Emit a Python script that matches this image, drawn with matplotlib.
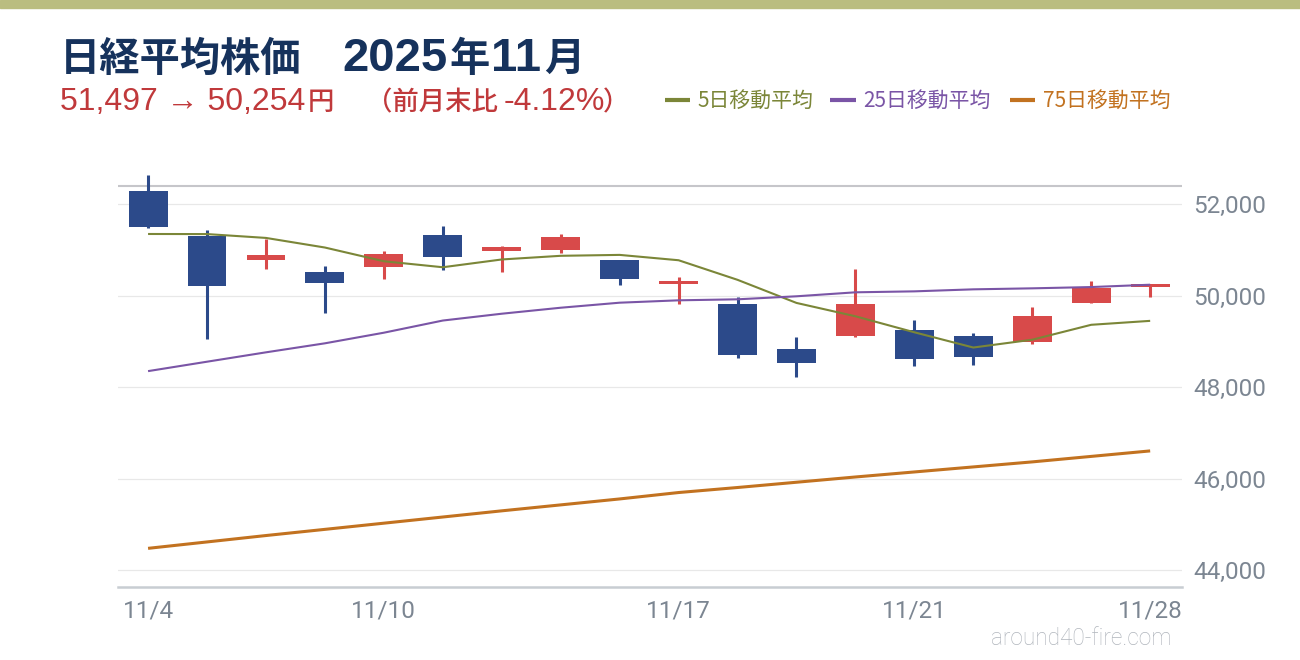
import matplotlib
matplotlib.use('Agg')
import matplotlib.pyplot as plt
from matplotlib.lines import Line2D
from matplotlib.patches import Rectangle
import numpy as np

# ---------------- data ----------------
dates = ['11/4', '11/5', '11/6', '11/7', '11/10', '11/11', '11/12', '11/13', '11/14',
         '11/17', '11/18', '11/19', '11/20', '11/21', '11/25', '11/26', '11/27', '11/28']
opens = [52291, 51307, 50790, 50520, 50636, 51329, 50986, 51008, 50782,
         50258, 49821, 48837, 49128, 49253, 49122, 48997, 49850, 50199]
highs = [52640, 51438, 51241, 50651, 50979, 51526, 51089, 51351, 50782,
         50411, 49981, 49100, 50586, 49471, 49187, 49755, 50323, 50257]
lows = [51480, 49062, 50592, 49630, 50374, 50570, 50520, 50935, 50236,
        49821, 48640, 48232, 49106, 48472, 48494, 48953, 49850, 49980]
closes = [51497, 50212, 50884, 50276, 50912, 50843, 51063, 51282, 50377,
          50324, 48703, 48538, 49824, 48626, 48660, 49559, 50167, 50254]
ma5 = [51352, 51350, 51266, 51056, 50756, 50625, 50795, 50875, 50895,
       50778, 50350, 49845, 49553, 49203, 48870, 49041, 49367, 49453]
ma25 = [48354, 48560, 48765, 48962, 49194, 49460, 49609, 49740, 49850,
        49902, 49924, 49990, 50077, 50098, 50142, 50164, 50192, 50243]
ma75 = [44480, 44620, 44760, 44895, 45030, 45165, 45300, 45430, 45560,
        45700, 45810, 45925, 46040, 46150, 46260, 46370, 46490, 46610]
prev_close = 52411
xtick_labels = ['11/4', '11/10', '11/17', '11/21', '11/28']
ytick_values = [44000, 46000, 48000, 50000, 52000]
legend_labels = ['5日移動平均', '25日移動平均', '75日移動平均']
title_name = '日経平均株価'
title_year, title_nen, title_month, title_tsuki = '2025', '年', '11', '月'
sub_range, sub_yen = '51,497 → 50,254', '円'
sub_label, sub_pct, sub_close = '（前月末比', '-4.12%', '）'
watermark = 'around40-fire.com'

# ---------------- style ----------------
BAND = '#babd80'
NAVY = '#16325c'
SUBRED = '#c0393b'
BLUE = '#2c4a8a'
RED = '#d84a4a'
OLIVE = '#7b8638'
PURPLE = '#7a55a6'
ORANGE = '#c27220'
TICK = '#7c8692'
GRID = '#e8e8e8'
WM = '#b0b5bc'

CJK = ['Noto Sans CJK JP', 'DejaVu Sans']
LAT = ['Liberation Sans', 'Noto Sans CJK JP', 'DejaVu Sans']
plt.rcParams['font.family'] = LAT

W, H = 1300, 660
fig = plt.figure(figsize=(W / 100, H / 100), dpi=100)
fig.patch.set_facecolor('white')
renderer = fig.canvas.get_renderer()


def draw_runs(x_px, base_px, runs):
    """Draw text runs one after another; each run: (text, kwargs, x_override, gap)."""
    x = x_px
    for text, kw, x_set, gap in runs:
        if x_set is not None:
            x = x_set
        t = fig.text(x / W, (H - base_px) / H, text, va='baseline', ha='left', **kw)
        bb = t.get_window_extent(renderer)
        x = bb.x1 + gap


# top band
fig.patches.append(Rectangle((0, 1 - 8 / H), 1, 8 / H, transform=fig.transFigure,
                             color=BAND, zorder=0))

# axes
ax_left, ax_right = 118, 1182
ax_bottom_px, ax_top_px = 587, 158.6
ax = fig.add_axes([ax_left / W, (H - ax_bottom_px) / H,
                   (ax_right - ax_left) / W, (ax_bottom_px - ax_top_px) / H])
ax.set_ylim(43635, 53000)
ax.set_xlim(-0.51, 17.54)

x = np.arange(len(dates))
date_index = {d: i for i, d in enumerate(dates)}

# grid
for v in ytick_values:
    ax.axhline(v, color=GRID, lw=0.9, zorder=1)
ax.axhline(prev_close, color='#c6c6ca', lw=1.5, zorder=1)

# candles
body_w = 0.66
wick_w = 2.2
for i in x:
    o, h, l, c = opens[i], highs[i], lows[i], closes[i]
    col = RED if c >= o else BLUE
    ax.vlines(i, l, h, color=col, lw=wick_w, zorder=2)
    lo, hi = min(o, c), max(o, c)
    ax.bar(i, hi - lo, bottom=lo, width=body_w, color=col, zorder=3, linewidth=0)

# moving averages
ax.plot(x, ma5, color=OLIVE, lw=1.5, zorder=4, solid_capstyle='butt')
ax.plot(x, ma25, color=PURPLE, lw=1.5, zorder=4, solid_capstyle='butt')
ax.plot(x, ma75, color=ORANGE, lw=2.2, zorder=4, solid_capstyle='butt')

# spines & ticks
for s in ['top', 'left', 'right']:
    ax.spines[s].set_visible(False)
ax.spines['bottom'].set_color('#c8cdd2')
ax.spines['bottom'].set_linewidth(1.8)

ax.yaxis.tick_right()
ax.set_yticks(ytick_values)
ax.set_yticklabels([f'{v:,}' for v in ytick_values])
ax.set_xticks([date_index[d] for d in xtick_labels])
ax.set_xticklabels(xtick_labels)
ax.tick_params(axis='both', length=0, colors=TICK, labelsize=17.5)
ax.tick_params(axis='y', pad=8)
ax.tick_params(axis='x', pad=9)
for lab in ax.get_xticklabels() + ax.get_yticklabels():
    lab.set_family(['Roboto', 'DejaVu Sans'])
    lab.set_fontweight('normal')
    lab.set_color(TICK)

# title
tb_cjk = dict(color=NAVY, fontsize=29, fontweight='bold', family=CJK)
tb_lat = dict(color=NAVY, fontsize=34, fontweight='bold', family=LAT)
draw_runs(60, 71, [(title_name, tb_cjk, None, 0),
                   (title_year, tb_lat, 342, 2),
                   (title_nen, tb_cjk, None, 2),
                   (title_month, tb_lat, None, 3),
                   (title_tsuki, tb_cjk, None, 0)])

# subtitle
sb_cjk = dict(color=SUBRED, fontsize=19, fontweight='medium', family=CJK)
sb_lat = dict(color=SUBRED, fontsize=23, fontweight='normal', family=LAT)
draw_runs(60, 110, [(sub_range, sb_lat, None, 2),
                    (sub_yen, sb_cjk, None, 0),
                    (sub_label, sb_cjk, 366, 6),
                    (sub_pct, sb_lat, None, -2),
                    (sub_close, sb_cjk, None, 0)])

# legend (manual)
legend_items = [(665, 690, 697, OLIVE), (830, 856, 863, PURPLE), (1010, 1035, 1043, ORANGE)]
for (x0, x1, tx, col), lab in zip(legend_items, legend_labels):
    fig.lines.append(Line2D([x0 / W, x1 / W], [(H - 100) / H] * 2, transform=fig.transFigure,
                            color=col, lw=3.0, solid_capstyle='butt'))
    fig.text(tx / W, (H - 101) / H, lab, color=col, fontsize=15, va='center', ha='left',
             family=CJK)

# watermark
fig.text(1172 / W, (H - 645) / H, watermark, color=WM, fontsize=16.3, va='baseline',
         ha='right', family=['Roboto', 'DejaVu Sans'], fontweight='light')

fig.savefig('out.png', dpi=100, facecolor='white')
